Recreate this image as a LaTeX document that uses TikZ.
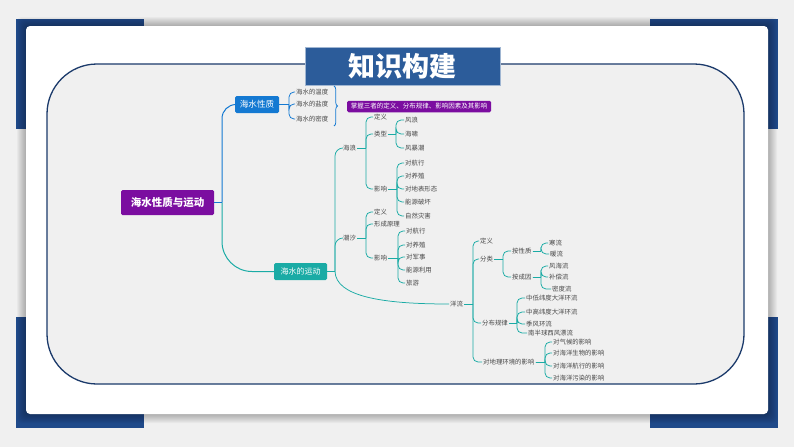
\documentclass[tikz,border=0pt]{standalone}
\usepackage{fontspec}
\setmainfont{Noto Sans CJK SC}
\usetikzlibrary{decorations.pathreplacing}
\definecolor{bgc}{HTML}{F0F0F0}
\definecolor{cornerblue}{HTML}{1F4A8A}
\definecolor{navy}{HTML}{1B3A6B}
\definecolor{titleblue}{HTML}{2C5C9A}
\definecolor{purp}{HTML}{7B0DA0}
\definecolor{boxblue}{HTML}{1479D2}
\definecolor{boxteal}{HTML}{1AABA5}
\definecolor{txt}{HTML}{474747}
\newcommand\mmkid[4]{%
  \path (#3,0) coordinate (mmtmp);
  \draw[#1] (#2.east) -- (#2.east -| mmtmp);
  \draw[#1, rounded corners=5] (#2.east -| mmtmp) |- (#4.west);}
\begin{document}
\begin{tikzpicture}[x=1pt,y=-1pt,
  lbl/.style={anchor=west, inner sep=1pt, font=\fontsize{6.4}{7}\selectfont, text=txt},
  box/.style={rounded corners=1.5, inner sep=0pt, text=white, align=center},
  tl/.style={draw=boxteal, line width=0.75pt},
  bl/.style={draw=boxblue, line width=0.75pt}]
\useasboundingbox (0,0) rectangle (794,447);
\fill[bgc] (0,0) rectangle (794,447);
% corner blocks
\fill[cornerblue] (16,19) rectangle (144,129);
\fill[cornerblue] (650,19) rectangle (778,129);
\fill[cornerblue] (16,317) rectangle (144,428);
\fill[cornerblue] (650,317) rectangle (778,428);
% shadow
\foreach \k in {1,...,9}{
  \fill[black, opacity=0.03, rounded corners=4] ({26-\k},{26-\k}) rectangle ({768+\k},{414+\k});
}
% card
\fill[white, rounded corners=4] (26,26) rectangle (768,414);
% inner frame
\draw[navy, line width=1.3pt, fill=bgc, rounded corners=50] (47,64) rectangle (744,384);
% title
\node[box, rounded corners=0, fill=titleblue, draw=titleblue!45!white, line width=0.6pt,
  minimum width=195, minimum height=38, font=\bfseries\fontsize{27}{30}\selectfont] (title) at (402.5,66) {知识构建};

% main nodes
\node[box, fill=purp, minimum width=93, minimum height=25, font=\bfseries\fontsize{10.5}{12}\selectfont] (root) at (167.5,202.5) {海水性质与运动};
\node[box, fill=boxblue, minimum width=44, minimum height=17, font=\fontsize{8.6}{10}\selectfont] (xz) at (257,104.5) {海水性质};
\node[box, fill=boxteal, minimum width=53, minimum height=17, font=\fontsize{8}{10}\selectfont] (yd) at (300.5,271.5) {海水的运动};
\node[box, fill=purp, minimum width=144, minimum height=11.5, font=\fontsize{6.5}{7}\selectfont] (goal) at (419,106.5) {掌握三者的定义、分布规律、影响因素及其影响};

% root connectors
\coordinate (rt) at (222,202.5);
\draw[bl, line width=1pt] (root.east) -- (rt);
\draw[bl, line width=1pt, rounded corners=14] (rt) |- (xz.west);
\draw[tl, line width=1pt, rounded corners=30] (rt) |- (yd.west);

% 海水性质 children
\node[lbl] (wd) at (295,92) {海水的温度};
\node[lbl] (yan) at (295,104) {海水的盐度};
\node[lbl] (md) at (295,119) {海水的密度};
\mmkid{bl}{xz}{289}{wd}
\mmkid{bl}{xz}{289}{yan}
\mmkid{bl}{xz}{289}{md}
\draw[bl, decorate, decoration={brace, amplitude=3.5pt}] (334,86) -- (334,126);

% 海水的运动 children
\node[lbl] (hl) at (342,148) {海浪};
\node[lbl] (cx) at (342,238) {潮汐};
\node[lbl] (yl) at (449,304) {洋流};
\coordinate (yt) at (335,271.5);
\draw[tl] (yd.east) -- (yt);
\draw[tl, rounded corners=8] (yt) |- (hl.west);
\draw[tl, rounded corners=8] (yt) |- (cx.west);
\draw[tl] (yt) .. controls (336,296) and (380,304) .. (yl.west);

% 海浪
\node[lbl] (hl1) at (373,117) {定义};
\node[lbl] (hl2) at (373,134) {类型};
\node[lbl] (hl3) at (373,189) {影响};
\mmkid{tl}{hl}{366}{hl1}
\mmkid{tl}{hl}{366}{hl2}
\mmkid{tl}{hl}{366}{hl3}
\node[lbl] (lx1) at (404,120) {风浪};
\node[lbl] (lx2) at (404,134) {海啸};
\node[lbl] (lx3) at (404,148) {风暴潮};
\mmkid{tl}{hl2}{396}{lx1}
\mmkid{tl}{hl2}{396}{lx2}
\mmkid{tl}{hl2}{396}{lx3}
\node[lbl] (hy1) at (404,163) {对航行};
\node[lbl] (hy2) at (404,176) {对养殖};
\node[lbl] (hy3) at (404,189) {对地表形态};
\node[lbl] (hy4) at (404,202) {能源破坏};
\node[lbl] (hy5) at (404,216) {自然灾害};
\foreach \c in {hy1,hy2,hy3,hy4,hy5}{\mmkid{tl}{hl3}{397}{\c}}

% 潮汐
\node[lbl] (cx1) at (373,212) {定义};
\node[lbl] (cx2) at (373,224) {形成原理};
\node[lbl] (cx3) at (373,258) {影响};
\mmkid{tl}{cx}{366}{cx1}
\mmkid{tl}{cx}{366}{cx2}
\mmkid{tl}{cx}{366}{cx3}
\node[lbl] (cy1) at (405,231) {对航行};
\node[lbl] (cy2) at (405,245) {对养殖};
\node[lbl] (cy3) at (405,257) {对军事};
\node[lbl] (cy4) at (405,270) {能源利用};
\node[lbl] (cy5) at (405,283) {旅游};
\foreach \c in {cy1,cy2,cy3,cy4,cy5}{\mmkid{tl}{cx3}{398}{\c}}

% 洋流
\node[lbl] (yl1) at (479,241) {定义};
\node[lbl] (yl2) at (479,259) {分类};
\node[lbl] (yl3) at (481,323) {分布规律};
\node[lbl] (yl4) at (482,362) {对地理环境的影响};
\foreach \c in {yl1,yl2,yl3,yl4}{\mmkid{tl}{yl}{473}{\c}}
\node[lbl] (fl1) at (511,251) {按性质};
\node[lbl] (fl2) at (511,277) {按成因};
\mmkid{tl}{yl2}{503}{fl1}
\mmkid{tl}{yl2}{503}{fl2}
\node[lbl] (xz1) at (548,243) {寒流};
\node[lbl] (xz2) at (549,254) {暖流};
\mmkid{tl}{fl1}{541}{xz1}
\mmkid{tl}{fl1}{541}{xz2}
\node[lbl] (cy6) at (548,266) {风海流};
\node[lbl] (cy7) at (548,277) {补偿流};
\node[lbl] (cy8) at (551,289) {密度流};
\foreach \c in {cy6,cy7,cy8}{\mmkid{tl}{fl2}{541}{\c}}
\node[lbl] (fb1) at (525,298) {中低纬度大洋环流};
\node[lbl] (fb2) at (525,312) {中高纬度大洋环流};
\node[lbl] (fb3) at (525,324) {季风环流};
\node[lbl] (fb4) at (527,333) {南半球西风漂流};
\foreach \c in {fb1,fb2,fb3,fb4}{\mmkid{tl}{yl3}{517}{\c}}
\node[lbl] (ys1) at (552,342) {对气候的影响};
\node[lbl] (ys2) at (552,353) {对海洋生物的影响};
\node[lbl] (ys3) at (552,366) {对海洋航行的影响};
\node[lbl] (ys4) at (552,378) {对海洋污染的影响};
\foreach \c in {ys1,ys2,ys3,ys4}{\mmkid{tl}{yl4}{545}{\c}}
\end{tikzpicture}
\end{document}
